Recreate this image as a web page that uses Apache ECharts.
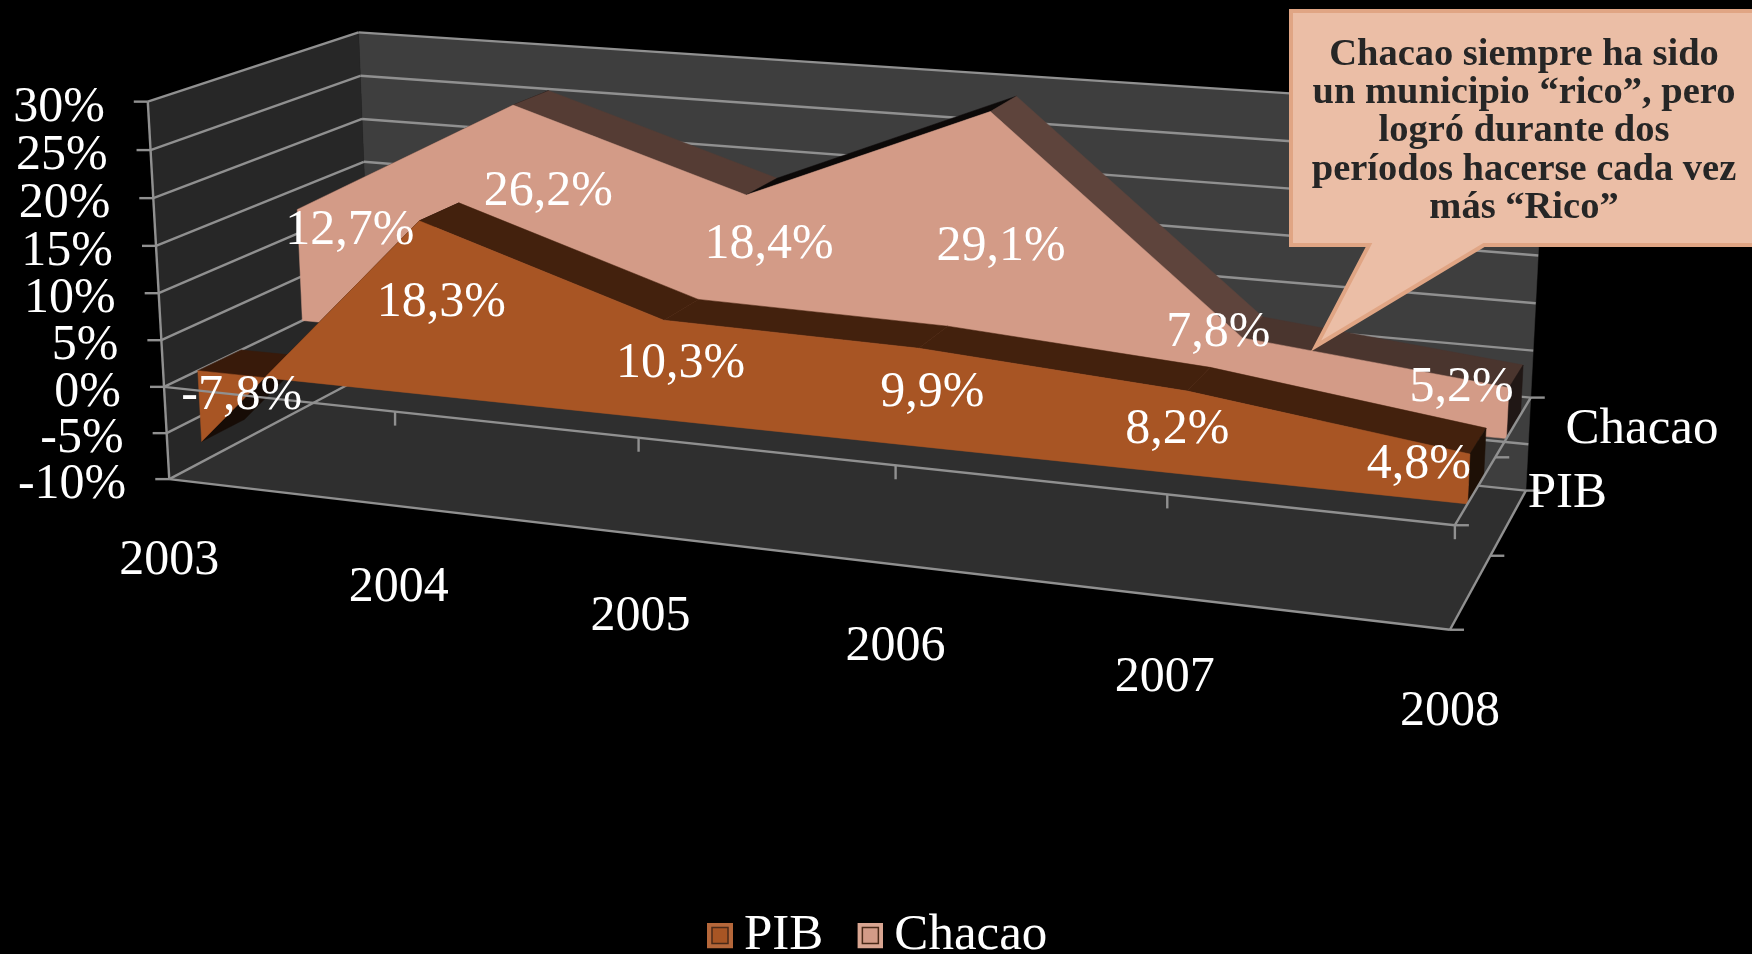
<!DOCTYPE html>
<html>
<head>
<meta charset="utf-8">
<style>html,body{margin:0;padding:0;background:#000}#c{width:1752px;height:954px}</style>
<script src="https://cdn.jsdelivr.net/npm/echarts@6/dist/echarts.min.js"></script>
</head>
<body>
<div id="c"></div>
<script>
// ---- data ----
const categories = ['2003','2004','2005','2006','2007','2008'];
const pibValues = [-7.8,18.3,10.3,9.9,8.2,4.8];
const chacaoValues = [12.7,26.2,18.4,29.1,7.8,5.2];
const valueTicks = [-10,-5,0,5,10,15,20,25,30];
const seriesNames = ['PIB','Chacao'];
const calloutLines = ['Chacao siempre ha sido','un municipio “rico”, pero','logró durante dos','períodos hacerse cada vez','más “Rico”'];
// label nudges (px) from the middle of each area column
const pibLabelNudge = [[42,-13],[19,-8],[16,-9],[14,-7],[-9,-6],[-50,-17]];
const chacaoLabelNudge = [[50,-37],[32,-35],[22,-38],[12,-6],[-23,-45],[-46,-28]];

// ---- view calibration of the 3D box: [category, value, depth, px, py] ----
const view = [
 [0,-10,0,170,480],[0,0,0,164.3,386],[0,30,0,148,100.7],[0,30,1,358.5,32],[0,-10,1,372,372],[0,15,1,363.8,161.4],
 [5,-10,0,1449.4,630],[5,0,0,1455,523],[5,-10,1,1525.4,490],[5,0,1,1530,397],[5,30,1,1546,112],
 [5,-10,.5,1491.6,555.7],[5,0,.5,1497,457],
 [1,0,0,395,412],[2,0,0,638,439],[3,0,0,894.6,466],[4,0,0,1166.5,495]
];
const GRID = {left:100,top:100,width:1000,height:500};
const FONT = '"Liberation Serif", serif';
const LINE = '#909090';
const TEXT_SHIFT = 3;

function solve(rows){
  const n=11, M=[];
  for(let i=0;i<n;i++){M.push(new Array(n+1).fill(0));}
  rows.forEach(([r,b])=>{for(let i=0;i<n;i++){for(let j=0;j<n;j++)M[i][j]+=r[i]*r[j];M[i][n]+=r[i]*b;}});
  for(let c=0;c<n;c++){
    let p=c;for(let r=c+1;r<n;r++)if(Math.abs(M[r][c])>Math.abs(M[p][c]))p=r;
    [M[c],M[p]]=[M[p],M[c]];
    for(let r=0;r<n;r++){if(r===c)continue;const f=M[r][c]/M[c][c];for(let k=c;k<=n;k++)M[r][k]-=f*M[c][k];}
  }
  return M.map((r,i)=>r[n]/r[i]);
}
const P = (function(){
  const rows=[];
  view.forEach(([X,Y,Z,x,y])=>{
    const U=X/5,V=(Y+10)/40;x/=1000;y/=1000;
    rows.push([[U,V,Z,1,0,0,0,0,-x*U,-x*V,-x*Z],x]);
    rows.push([[0,0,0,0,U,V,Z,1,-y*U,-y*V,-y*Z],y]);
  });
  return solve(rows);
})();
// u,v are unit positions taken from the library's axes; z is depth 0..1
function project(u,v,z){
  const w=P[8]*u+P[9]*v+P[10]*z+1;
  return [1000*(P[0]*u+P[1]*v+P[2]*z+P[3])/w,1000*(P[4]*u+P[5]*v+P[6]*z+P[7])/w];
}
function unit(c){return [(c[0]-GRID.left)/GRID.width,(GRID.top+GRID.height-c[1])/GRID.height];}
function poly(points,fill){return {type:'polygon',shape:{points},style:{fill,stroke:fill,lineWidth:0.5}};}
function seg(a,b,w,color){return {type:'line',shape:{x1:a[0],y1:a[1],x2:b[0],y2:b[1]},style:{stroke:color||LINE,lineWidth:w||2.4}};}
function text(str,x,y,align,size,fill){
  return {type:'text',style:{text:str,x,y:y+TEXT_SHIFT,fill:fill||'#fff',font:(size||50)+'px '+FONT,align:align||'center',verticalAlign:'middle',textAlign:align||'center',textVerticalAlign:'middle'}};
}

function renderWalls(params,api){
  const q=(c,v,z)=>{const t=unit(api.coord([c,v]));return project(t[0],t[1],z);};
  const kids=[];
  kids.push(poly([q(0,-10,1),q(5,-10,1),q(5,30,1),q(0,30,1)],'#3e3e3e'));
  kids.push(poly([q(0,-10,0),q(0,-10,1),q(0,30,1),q(0,30,0)],'#272727'));
  kids.push(poly([q(0,-10,0),q(5,-10,0),q(5,-10,1),q(0,-10,1)],'#2f2f2f'));
  valueTicks.forEach(v=>{
    kids.push(seg(q(0,v,0),q(0,v,1)));
    kids.push(seg(q(0,v,1),q(5,v,1)));
  });
  kids.push(seg(q(0,-10,0),q(0,30,0)));
  kids.push(seg(q(0,-10,0),q(5,-10,0)));
  kids.push(seg(q(5,-10,0),q(5,-10,1)));
  return {type:'group',children:kids};
}

function areaRenderer(zF,zB,look){
  const pts=[];
  return function(params,api){
    const i=params.dataIndex,val=api.value(1),idx=api.value(0);
    const c=unit(api.coord([idx,val])),o=unit(api.coord([idx,0]));
    pts[i]={u:c[0],v:c[1],o:o[1],val};
    const kids=[];
    if(i>0){
      const a=pts[i-1],b=pts[i];
      const rising=b.val>a.val;
      kids.push(poly([project(a.u,a.v,zF),project(b.u,b.v,zF),project(b.u,b.v,zB),project(a.u,a.v,zB)],rising?look.rise:look.fall[i-1]));
      if(a.val<0&&b.val>0){
        const t=(0-a.val)/(b.val-a.val),cu=a.u+t*(b.u-a.u);
        kids.push(poly([project(a.u,a.o,zF),project(cu,a.o,zF),project(cu,a.o,zB),project(a.u,a.o,zB)],look.base));
      }
    }
    if(i===categories.length-1){
      const n=pts[i],first=pts[0];
      kids.push(poly([project(n.u,n.v,zF),project(n.u,n.v,zB),project(n.u,n.o,zB),project(n.u,n.o,zF)],look.cap));
      const outline=[project(first.u,first.o,zF)];
      pts.forEach(p=>outline.push(project(p.u,p.v,zF)));
      outline.push(project(n.u,n.o,zF));
      kids.push(poly(outline,look.face));
    }
    return {type:'group',children:kids};
  };
}

function renderAxes(params,api){
  const q=(c,v,z)=>{const t=unit(api.coord([c,v]));return project(t[0],t[1],z);};
  const kids=[],T=14;
  kids.push(seg(q(0,0,0),q(5,0,0)));
  kids.push(seg(q(5,0,0),q(5,0,1)));
  categories.forEach((name,i)=>{
    const b=q(i,0,0),f=q(i,-10,0);
    if(i>0)kids.push(seg(b,[b[0],b[1]+T]));
    kids.push(text(name,f[0],f[1]+79));
  });
  valueTicks.forEach(v=>{
    const b=q(0,v,0);
    kids.push(seg([b[0]-T,b[1]],b));
    kids.push(text(String(v)+'%',b[0]-T-29,b[1]+3,'right'));
  });
  [0,.5,1].forEach(z=>{
    [0,-10].forEach(v=>{const b=q(5,v,z);kids.push(seg(b,[b[0]+T,b[1]]));});
  });
  seriesNames.forEach((name,k)=>{
    const b=q(5,0,.25+.5*k);
    kids.push(text(name,b[0]+52,b[1],'left',51));
  });
  return {type:'group',children:kids};
}

function labelRenderer(zF,nudge){
  return function(params,api){
    const i=api.value(0),val=api.value(1);
    const t=unit(api.coord([i,val])),o=unit(api.coord([i,0]));
    const a=project(t[0],t[1],zF),b=project(t[0],o[1],zF);
    const s=val.toFixed(1).replace('.',',')+'%';
    const d=nudge[params.dataIndex];
    return text(s,(a[0]+b[0])/2+d[0],(a[1]+b[1])/2+d[1]);
  };
}

function legendIcon(outer,fill){
  const svg='<svg xmlns="http://www.w3.org/2000/svg" width="26" height="26"><rect width="26" height="26" fill="'+outer+'"/><rect x="5" y="5" width="16" height="16" fill="'+fill+'" stroke="#4a2a18" stroke-width="1.5"/></svg>';
  return 'image://data:image/svg+xml;charset=utf-8,'+encodeURIComponent(svg);
}

const rows = vals => vals.map((v,i)=>[i,v]);
const axisSpec = {gridIndex:0,show:false};
const chart = echarts.init(document.getElementById('c'));
chart.setOption({
  animation:false,
  backgroundColor:'#000',
  grid:GRID,
  xAxis:Object.assign({type:'category',data:categories,boundaryGap:false},axisSpec),
  yAxis:Object.assign({type:'value',min:-10,max:30,interval:5},axisSpec),
  legend:{
    left:702,top:905,itemWidth:26,itemHeight:26,itemGap:34,selectedMode:false,
    textStyle:{color:'#fff',fontFamily:FONT,fontSize:51,padding:[0,0,0,6]},
    data:[{name:'PIB',icon:legendIcon('#b5673a','#a85524')},{name:'Chacao',icon:legendIcon('#d9a591','#d39b87')}]
  },
  series:[
    {type:'custom',name:'walls',z:1,silent:true,data:[[0,0]],renderItem:renderWalls,clip:false},
    {type:'custom',name:'Chacao',z:2,silent:true,data:rows(chacaoValues),clip:false,itemStyle:{color:'#d39b87'},
      renderItem:areaRenderer(.65,.85,{face:'#d39b87',rise:'#0c0908',fall:['#5e443c','#553c34','#5e443c','#5e443c','#4a352e'],cap:'#201715',base:'#4a352e'})},
    {type:'custom',name:'PIB',z:3,silent:true,data:rows(pibValues),clip:false,itemStyle:{color:'#a85524'},
      renderItem:areaRenderer(.15,.35,{face:'#a85524',rise:'#170c06',fall:['#43210d','#43210d','#43210d','#43210d','#43210d'],cap:'#1e1006',base:'#381a0a'})},
    {type:'custom',name:'axes',z:4,silent:true,data:[[0,0]],renderItem:renderAxes,clip:false},
    {type:'custom',name:'pibLabels',z:5,silent:true,data:rows(pibValues),renderItem:labelRenderer(.15,pibLabelNudge),clip:false},
    {type:'custom',name:'chacaoLabels',z:5,silent:true,data:rows(chacaoValues),renderItem:labelRenderer(.65,chacaoLabelNudge),clip:false}
  ],
  graphic:[
    {type:'polygon',z:6,silent:true,shape:{points:[[1291,11],[1760,11],[1760,245],[1484,245],[1316,346],[1369,245],[1291,245]]},
      style:{fill:'#ebbea6',stroke:'#e0a584',lineWidth:4,lineJoin:'miter'}},
    ...calloutLines.map((t,i)=>({type:'text',z:7,silent:true,style:{text:t,x:1524,y:55+i*38.2,fill:'#262626',font:'bold 38.5px '+FONT,align:'center',verticalAlign:'middle',textAlign:'center',textVerticalAlign:'middle'}}))
  ]
});
</script>
</body>
</html>
